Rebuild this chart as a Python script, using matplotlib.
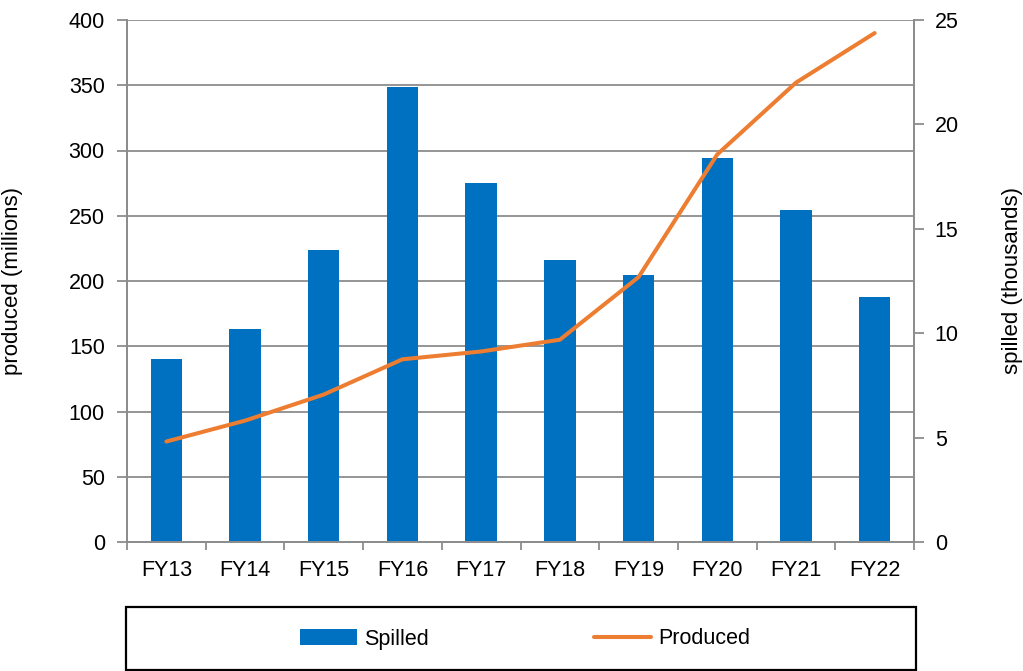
import matplotlib
matplotlib.use("Agg")
import matplotlib.pyplot as plt
from matplotlib.patches import Rectangle
import numpy as np

# Fiscal years
years = ["FY13", "FY14", "FY15", "FY16", "FY17", "FY18", "FY19", "FY20", "FY21", "FY22"]
# Spilled (thousands)
spilled = [8.75, 10.2, 14.0, 21.8, 17.2, 13.5, 12.8, 18.4, 15.9, 11.75]
# Produced (millions)
produced = [77, 93, 113, 140, 146, 155, 203, 297, 352, 390]

left_ticks = [0, 50, 100, 150, 200, 250, 300, 350, 400]
right_ticks = [0, 5, 10, 15, 20, 25]

plt.rcParams["font.family"] = ["Liberation Sans", "DejaVu Sans"]

BAR_BLUE = "#0070C0"
LINE_ORANGE = "#ED7D31"
GRID_GRAY = "#8C8C8C"

fig = plt.figure(figsize=(10.23, 6.71), dpi=100)
ax = fig.add_axes([127 / 1023, 1 - 542 / 671, (914 - 127) / 1023, (542 - 20) / 671])
ax2 = ax.twinx()

x = np.arange(len(years))

# Bars on the right (spilled) axis, line on the left (produced) axis
ax2.bar(x, spilled, width=0.4, color=BAR_BLUE, zorder=2, label="Spilled")
ax.plot(x, produced, color=LINE_ORANGE, lw=2.9, solid_capstyle="round",
        solid_joinstyle="round", zorder=5, label="Produced")
ax.set_zorder(ax2.get_zorder() + 1)
ax.patch.set_visible(False)

ax.set_xlim(-0.5, len(years) - 0.5)
ax.set_ylim(0, 400)
ax2.set_ylim(0, 25)
ax.set_yticks(left_ticks)
ax2.set_yticks(right_ticks)

# Gridlines from the left axis, drawn behind the bars
for v in left_ticks[1:]:
    ax2.axhline(v / 400 * 25, color=GRID_GRAY, lw=1.3, zorder=0)

ax.set_xticks(x)
ax.set_xticklabels(years)
ax.set_xticks(np.arange(-0.5, len(years) + 0.5, 1), minor=True)
ax.tick_params(axis="x", which="major", length=0, pad=13, labelsize=15.5)
ax.tick_params(axis="x", which="minor", length=6, width=1.3, color=GRID_GRAY, direction="out")
ax.tick_params(axis="y", length=7, width=1.3, color=GRID_GRAY, pad=9, labelsize=15.5)
ax2.tick_params(axis="y", length=7, width=1.3, color=GRID_GRAY, pad=8, labelsize=15.5)

for a in (ax, ax2):
    a.spines["top"].set_visible(False)
    for side in ("left", "right", "bottom"):
        a.spines[side].set_color(GRID_GRAY)
        a.spines[side].set_linewidth(1.3)

ax.set_ylabel("produced (millions)", fontsize=16)
ax2.set_ylabel("spilled (thousands)", fontsize=16)
ax.yaxis.set_label_coords(-0.132, 0.5)
ax2.yaxis.set_label_coords(1.112, 0.5)

# Legend box below the plot
fig.add_artist(Rectangle((126 / 1023, 1 / 671), (916 - 126) / 1023, (670 - 607) / 671,
                         transform=fig.transFigure, fill=False, edgecolor="black", lw=1.6))
handles = [ax2.containers[0], ax.get_lines()[0]]
leg = fig.legend(handles, ["Spilled", "Produced"], ncol=2, frameon=False,
                 loc="center", bbox_to_anchor=(525 / 1023, 1 - 639 / 671),
                 fontsize=15.5, handlelength=2.65, handletextpad=0.3,
                 columnspacing=7.7, handleheight=0.7)

fig.savefig("out.png", dpi=100)
